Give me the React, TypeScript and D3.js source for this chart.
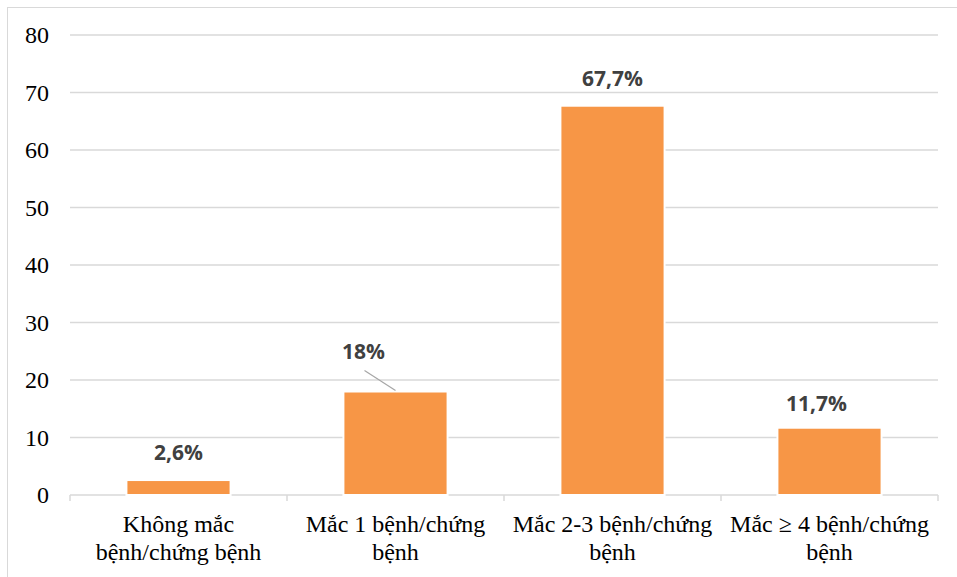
import React from 'react';
import * as d3 from 'd3';

// Categories (two-line labels) and values
const categories = [
  ['Không mắc', 'bệnh/chứng bệnh'],
  ['Mắc 1 bệnh/chứng', 'bệnh'],
  ['Mắc 2-3 bệnh/chứng', 'bệnh'],
  ['Mắc ≥ 4 bệnh/chứng', 'bệnh'],
];
const values = [2.6, 18, 67.7, 11.7];
const valueLabels = ['2,6%', '18%', '67,7%', '11,7%'];
const yTicks = [0, 10, 20, 30, 40, 50, 60, 70, 80];

const W = 957;
const H = 577;
const margin = { top: 35, right: 19, bottom: 82, left: 70 };

export default function App() {
  const x = d3
    .scaleBand<number>()
    .domain(d3.range(categories.length))
    .range([margin.left, W - margin.right])
    .paddingInner(0.52)
    .paddingOuter(0.26);
  const y = d3.scaleLinear().domain([0, 80]).range([H - margin.bottom, margin.top]);
  const bandW = (W - margin.right - margin.left) / categories.length;
  const bandLeft = (i: number) => margin.left + i * bandW;

  return (
    <div style={{ position: 'fixed', left: 0, top: 0, width: W, height: H, background: '#fff' }}>
      <svg width={W} height={H} style={{ display: 'block' }}>
        {/* chart frame */}
        <rect x={7.5} y={7.5} width={W + 10} height={H} fill="#fff" stroke="#d9d9d9" strokeWidth={1} />

        {/* gridlines */}
        {yTicks.map((t) => (
          <line
            key={t}
            x1={margin.left}
            x2={W - margin.right}
            y1={y(t)}
            y2={y(t)}
            stroke="#d9d9d9"
            strokeWidth={1.5}
          />
        ))}

        {/* y tick labels */}
        {yTicks.map((t) => (
          <text
            key={t}
            x={49}
            y={y(t)}
            dy="0.35em"
            textAnchor="end"
            fontFamily="Liberation Serif"
            fontSize={24}
            fill="#000"
          >
            {t}
          </text>
        ))}

        {/* category separator ticks */}
        {d3.range(categories.length + 1).map((i) => (
          <line
            key={i}
            x1={bandLeft(i)}
            x2={bandLeft(i)}
            y1={y(0)}
            y2={y(0) + 6}
            stroke="#d9d9d9"
            strokeWidth={1.5}
          />
        ))}

        {/* bars */}
        {values.map((v, i) => (
          <rect
            key={i}
            x={x(i)}
            y={y(v)}
            width={x.bandwidth()}
            height={y(0) - y(v)}
            fill="#f79646"
            stroke="#fff"
            strokeWidth={2}
          />
        ))}

        {/* value labels (the 18% one is pulled out with a leader line) */}
        {values.map((v, i) => {
          const cx = (x(i) as number) + x.bandwidth() / 2;
          const callout = i === 1;
          let lx = cx;
          let ly = y(v) - 20;
          if (callout) {
            lx = cx - 32;
            ly = y(v) - 33;
          } else if (i === 3) {
            lx = cx - 13;
            ly = y(v) - 17;
          }
          return (
            <g key={i}>
              {callout && (
                <line x1={lx + 1} y1={ly + 12} x2={cx} y2={y(v) - 1} stroke="#a6a6a6" strokeWidth={1.2} />
              )}
              <text
                x={lx}
                y={ly}
                textAnchor="middle"
                fontFamily="Open Sans"
                fontWeight="bold"
                fontSize={21}
                fill="#404040"
              >
                {valueLabels[i]}
              </text>
            </g>
          );
        })}

        {/* category labels */}
        {categories.map((lines, i) => {
          const cx = bandLeft(i) + bandW / 2;
          return (
            <text key={i} textAnchor="middle" fontFamily="Liberation Serif" fontSize={24} fill="#000">
              {lines.map((l, j) => (
                <tspan key={j} x={cx} y={y(0) + 37 + j * 28}>
                  {l}
                </tspan>
              ))}
            </text>
          );
        })}
      </svg>
    </div>
  );
}
